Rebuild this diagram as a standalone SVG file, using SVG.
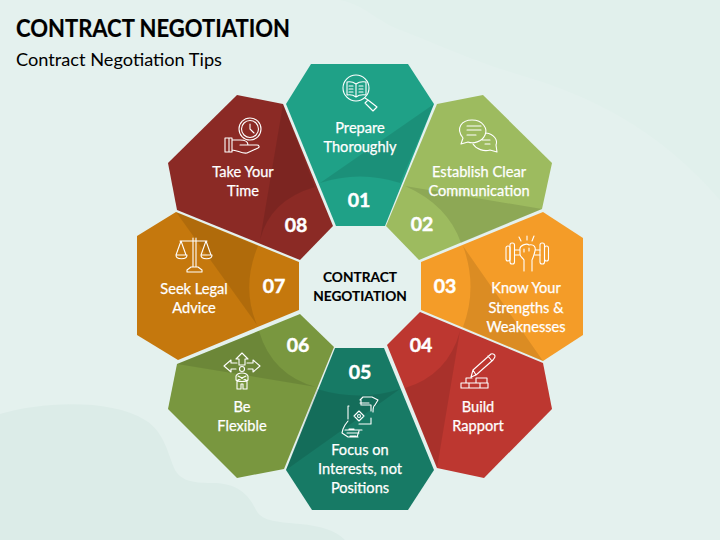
<svg xmlns="http://www.w3.org/2000/svg" width="720" height="540" viewBox="0 0 720 540">
<style>
text{font-family:"Lato","Open Sans","Liberation Sans",sans-serif}
.l{font-size:14.6px;fill:#fff;stroke:#fff;stroke-width:.25;text-anchor:middle}
.n{font-size:19.5px;font-weight:700;fill:#fff;stroke:#fff;stroke-width:.45;text-anchor:middle}
.c{font-size:13.7px;font-weight:700;fill:#000;stroke:#000;stroke-width:.15;text-anchor:middle}
.i{fill:none;stroke:#fff;stroke-width:1.1;stroke-linecap:round;stroke-linejoin:round}
.d{fill:#000;fill-opacity:.1}
</style>
<rect width="720" height="540" fill="#E4F1EE"/>
<path d="M0 414C40 402 110 398 145 420C165 432 168 455 175 470C182 482 195 483 215 483C240 484 250 497 256 510C262 522 280 522 300 524C320 526 335 530 345 540H0Z" fill="#DCECE8"/>
<path d="M340 0C365 5 375 20 400 30C440 45 470 60 520 75C590 95 660 130 720 200V0Z" fill="#E1F0EC"/>
<text x="16" y="37" font-size="25" font-weight="700" fill="#000" stroke="#000" stroke-width=".2" textLength="274" lengthAdjust="spacingAndGlyphs">CONTRACT NEGOTIATION</text>
<text x="16" y="66" font-size="17.5" fill="#000" textLength="206" lengthAdjust="spacingAndGlyphs">Contract Negotiation Tips</text>
<g id="center"><text class="c" x="360" y="282">CONTRACT</text><text class="c" x="360" y="301">NEGOTIATION</text></g>

<g id="node-01">
<polygon points="311,64 408,64 434,104 385,226 336,226 286,104" fill="#1FA187"/>
<path class="d" d="M434 104L400 183Q360 170 320 183Z"/>
<g class="i"><circle cx="356" cy="88" r="13"/><path d="M356 84Q352 81 347 82V95Q352 94 356 97Q360 94 366 95V82Q360 81 356 84V97M349 86H353M349 89H353M349 92H353M359 86H363M359 89H363M359 92H363M365 98L368 100L377 107L373 111L365 103L368 100"/></g>
<text class="l" x="360" y="133">Prepare</text><text class="l" x="360" y="152">Thoroughly</text><text class="n" x="359" y="207">01</text>
</g>
<g id="node-02">
<polygon points="437,104 483,95 552,163 542,209 419,260 386,226" fill="#9DBB5F"/>
<path class="d" d="M542 209L461 243Q448 205 405 186Z"/>
<g class="i"><path d="M463 138C455 128 462 120 472 120C483 120 488 129 485 135C482 142 473 144 468 142L461 144ZM467 126H481M467 130H481M467 135H476M486 133C494 134 498 140 496 145L497 152L490 150C484 152 476 149 473 144M482 140H490M485 144H490"/></g>
<text class="l" x="479" y="177">Establish Clear</text><text class="l" x="479" y="196">Communication</text><text class="n" x="422" y="231">02</text>
</g>
<g id="node-03">
<polygon points="543,212 583,238 583,335 543,361 421,310 421,262" fill="#F49C28"/>
<path class="d" d="M543 361L463 327Q478 287 463 246Z"/>
<g class="i"><rect x="506" y="246" width="4" height="15" rx="2"/><rect x="510" y="243" width="4.500" height="21" rx="2"/><rect x="540" y="243" width="4.500" height="21" rx="2"/><rect x="544.500" y="246" width="4" height="15" rx="2"/><path d="M514.500 250H520M535 250H540M514.500 255H520M535 255H540M520 250C519 245 527 243 529 245C534 244 536 247 535 251C534 255 533 258 532 260V271M520 250V254C520 257 523 258 524 260V271M524 249V252M529 248V251M519 237L521 241M527 236V240M534 236L532 241"/></g>
<text class="l" x="526" y="293">Know Your</text><text class="l" x="526" y="313">Strengths &amp;</text><text class="l" x="526" y="332">Weaknesses</text><text class="n" x="445" y="293">03</text>
</g>
<g id="node-04">
<polygon points="420,312 543,363 552,409 484,478 437,468 387,345" fill="#BD3730"/>
<path class="d" d="M460 331L437 468L405 388Q448 375 460 331Z"/>
<g class="i"><path d="M471 377L473 370L491 354C493 353 495 355 495 356C495 358 494 358 493 360L476 375ZM473 370L476 375M488 356L492 361M466 378H472M476 378H487M461 388V383H488V388ZM469 383V388M480 383V388M466 378V383M476 378V383M487 378V383"/></g>
<text class="l" x="478" y="412">Build</text><text class="l" x="478" y="431">Rapport</text><text class="n" x="421" y="352">04</text>
</g>
<g id="node-05">
<polygon points="335,348 384,348 434,470 408,510 312,510 286,470" fill="#177A65"/>
<path class="d" d="M286 470L317 389Q360 402 400 389Z"/>
<g class="i"><path d="M349 406H348V419M349 429H354M362 405H371V411M371 424V418M359 424H371M360 400L363 397H372M360 403H369M361 405V400M372 397L378 400M378 400L375 405C373 406 373 408 373 412M348 421L345 425L343 429L342 433L348 437H358M345 430H362M347 433H359M350 436H356M357 437L359 431"/><path d="M359 411L364 416L359 421L354 416Z"/><circle cx="359" cy="416" r="1.500"/></g>
<text class="l" x="360" y="455">Focus on</text><text class="l" x="360" y="474">Interests, not</text><text class="l" x="360" y="493">Positions</text><text class="n" x="360" y="379">05</text>
</g>
<g id="node-06">
<polygon points="300,314 334,347 284,469 237,478 168,409 177,364" fill="#79973F"/>
<path class="d" d="M177 364L259 331Q272 375 316 387Z"/>
<g class="i"><path d="M242 353L236 359H239V365H245V359H248ZM224 366L231 360V363H237M224 366L231 372V369H236M260 366L253 360V363H247M260 366L253 372V369H248"/><circle cx="242" cy="369" r="2.500"/><path d="M236 376C238 372 246 372 248 376L248 380C246 382 238 382 236 380ZM237 381V389H241V384H243V389H247V381M238 376L246 380M246 376L238 380"/></g>
<text class="l" x="242" y="412">Be</text><text class="l" x="242" y="431">Flexible</text><text class="n" x="298" y="352">06</text>
</g>
<g id="node-07">
<polygon points="176,212 299,262 299,310 178,360 137,335 137,236" fill="#C5780D"/>
<path class="d" d="M176 212L258 246Q241 287 257 325Z"/>
<g class="i"><path d="M193 238V267M196 238V267M180 241H207M181 241L176 255M181 241L186 255M176 255H187C187 260 176 260 176 255ZM206 241L201 255M206 241L211 255M201 255H212C212 260 201 260 201 255ZM187 272V270L191 267H198L202 270V272Z"/></g>
<text class="l" x="194" y="294">Seek Legal</text><text class="l" x="194" y="313">Advice</text><text class="n" x="274" y="293">07</text>
</g>
<g id="node-08">
<polygon points="237,95 283,104 333,226 300,260 177,210 168,163" fill="#8B2A25"/>
<path class="d" d="M283 104L315 187Q270 200 260 240Z"/>
<g class="i"><circle cx="250" cy="129" r="11"/><circle cx="250" cy="129" r="8.500"/><path d="M250 124V129L254 133M225 138H232V152H225ZM229 138V152M232 140L240 140C243 140 248 141 248 145H240M248 145L257 145C259 145 260 147 258 148L247 153C242 154 237 150 232 150"/></g>
<text class="l" x="243" y="177">Take Your</text><text class="l" x="243" y="196">Time</text><text class="n" x="296" y="232">08</text>
</g>
</svg>
